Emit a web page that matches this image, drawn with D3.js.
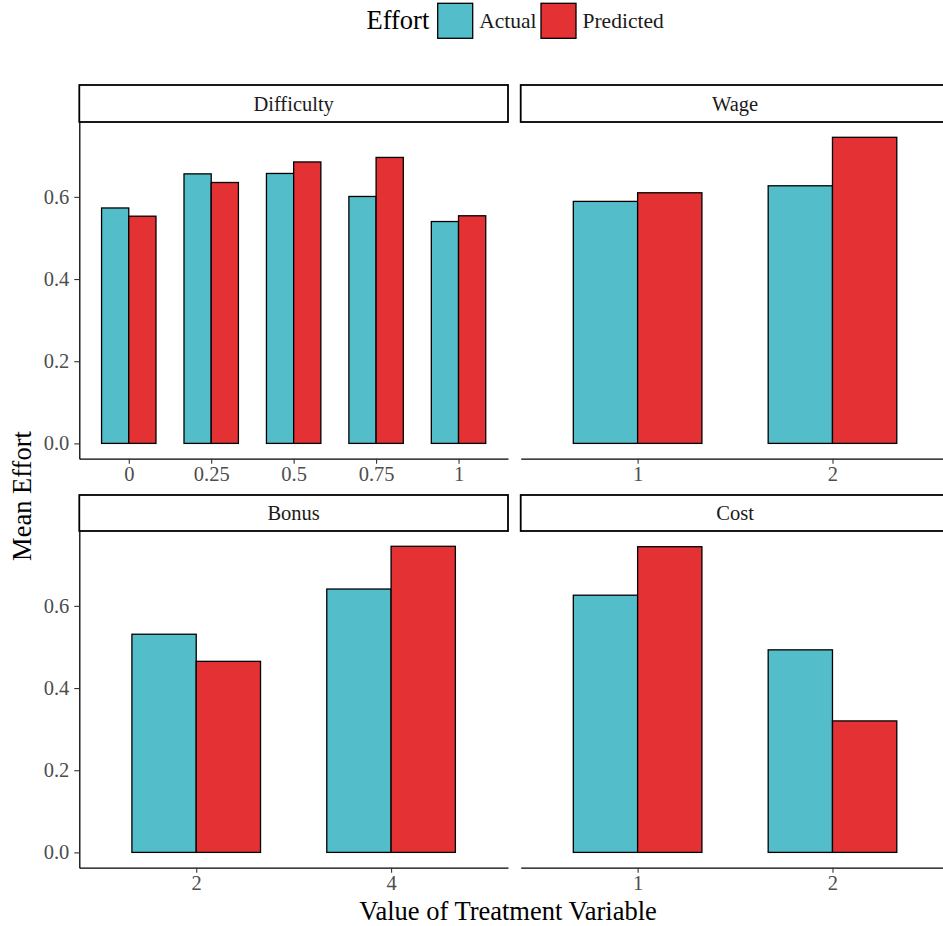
<!DOCTYPE html>
<html>
<head>
<meta charset="utf-8">
<script src="https://cdn.jsdelivr.net/npm/d3@7"></script>
<style>
  html, body { margin: 0; padding: 0; background: #fff; }
  svg { display: block; }
  text { font-family: "Liberation Serif", "Times New Roman", serif; }
</style>
</head>
<body>
<svg id="chart" width="943" height="926"></svg>
<script>
// Mean effort by treatment value, actual vs predicted
const seriesNames = ["Actual", "Predicted"];
const seriesColors = ["#53BDCA", "#E33134"];

const facetNames = ["Difficulty", "Wage", "Bonus", "Cost"];

const difficultyLevels = ["0", "0.25", "0.5", "0.75", "1"];
const difficultyActual = [0.573, 0.656, 0.657, 0.601, 0.540];
const difficultyPredicted = [0.553, 0.635, 0.685, 0.696, 0.554];

const wageLevels = ["1", "2"];
const wageActual = [0.589, 0.627];
const wagePredicted = [0.610, 0.745];

const bonusLevels = ["2", "4"];
const bonusActual = [0.531, 0.641];
const bonusPredicted = [0.465, 0.745];

const costLevels = ["1", "2"];
const costActual = [0.626, 0.493];
const costPredicted = [0.744, 0.320];

const yTicks = [0, 0.2, 0.4, 0.6];

const facets = [
  { name: facetNames[0], levels: difficultyLevels, values: [difficultyActual, difficultyPredicted] },
  { name: facetNames[1], levels: wageLevels, values: [wageActual, wagePredicted] },
  { name: facetNames[2], levels: bonusLevels, values: [bonusActual, bonusPredicted] },
  { name: facetNames[3], levels: costLevels, values: [costActual, costPredicted] }
];

const svg = d3.select("#chart");

// panel geometry (two columns, two rows, shared y)
const colX = [79.3, 520.7];
const panelW = 428.7;
const rows = [
  { stripTop: 85, top: 122, bottom: 458.7 },
  { stripTop: 495, top: 531, bottom: 867.7 }
];

// shared y domain: 0..max with 5% expansion
const yMax = d3.max(facets, f => d3.max(f.values, s => d3.max(s)));
const yPad = yMax * 0.05;
const yDomain = [-yPad, yMax + yPad];

const barWidth = 0.66;
const tickColor = "#333333";
const labelColor = "#4D4D4D";

facets.forEach((f, i) => {
  const col = i % 2, row = Math.floor(i / 2);
  const x0 = colX[col], x1 = x0 + panelW;
  const r = rows[row];

  const x = d3.scalePoint().domain(f.levels).range([x0, x1]).padding(0.6);
  const y = d3.scaleLinear().domain(yDomain).range([r.bottom, r.top]);
  const step = x.step();

  const g = svg.append("g");

  // strip
  g.append("rect")
    .attr("x", x0).attr("y", r.stripTop)
    .attr("width", panelW).attr("height", r.top - r.stripTop)
    .attr("fill", "#fff").attr("stroke", "#000").attr("stroke-width", 1.8);
  g.append("text")
    .attr("x", (x0 + x1) / 2).attr("y", (r.stripTop + r.top) / 2)
    .attr("dy", "0.35em").attr("text-anchor", "middle")
    .attr("font-size", 20.5).attr("fill", "#1A1A1A")
    .text(f.name);

  // bars
  const sub = d3.scaleBand().domain(seriesNames).range([-barWidth * step / 2, barWidth * step / 2]);
  seriesNames.forEach((s, si) => {
    g.append("g").selectAll("rect")
      .data(f.levels.map((lv, li) => ({ lv, v: f.values[si][li] })))
      .join("rect")
      .attr("x", d => x(d.lv) + sub(s))
      .attr("width", sub.bandwidth())
      .attr("y", d => y(d.v))
      .attr("height", d => y(0) - y(d.v))
      .attr("fill", seriesColors[si])
      .attr("stroke", "#000").attr("stroke-width", 1.3);
  });

  // x axis
  const xAxis = g.append("g")
    .attr("transform", `translate(0,${r.bottom})`)
    .call(d3.axisBottom(x).tickSize(5).tickPadding(3).tickSizeOuter(0));
  xAxis.select(".domain").attr("stroke", "#000").attr("stroke-width", 1.3);
  xAxis.selectAll(".tick line").attr("stroke", tickColor).attr("stroke-width", 1.1);
  xAxis.selectAll(".tick text")
    .attr("font-family", "Liberation Serif, serif").attr("font-size", 20.5)
    .attr("fill", labelColor);

  // y axis on the left column only
  if (col === 0) {
    const yAxis = g.append("g")
      .attr("transform", `translate(${x0},0)`)
      .call(d3.axisLeft(y).tickValues(yTicks).tickFormat(d3.format(".1f"))
        .tickSize(5).tickPadding(5).tickSizeOuter(0));
    yAxis.select(".domain").attr("stroke", "#000").attr("stroke-width", 1.3);
    yAxis.selectAll(".tick line").attr("stroke", tickColor).attr("stroke-width", 1.1);
    yAxis.selectAll(".tick text")
      .attr("font-family", "Liberation Serif, serif").attr("font-size", 20.5)
      .attr("fill", labelColor);
  }
});

// axis titles
svg.append("text")
  .attr("x", 508).attr("y", 920)
  .attr("text-anchor", "middle").attr("font-size", 26.5).attr("fill", "#000")
  .text("Value of Treatment Variable");
svg.append("text")
  .attr("transform", "translate(31,496) rotate(-90)")
  .attr("text-anchor", "middle").attr("font-size", 26.5).attr("fill", "#000")
  .text("Mean Effort");

// legend
const legend = svg.append("g");
legend.append("text")
  .attr("x", 366.5).attr("y", 29)
  .attr("font-size", 26.5).attr("fill", "#000")
  .text("Effort");
const keyX = [437.7, 541];
seriesNames.forEach((s, si) => {
  legend.append("rect")
    .attr("x", keyX[si]).attr("y", 3.3)
    .attr("width", 35).attr("height", 35)
    .attr("fill", seriesColors[si]).attr("stroke", "#000").attr("stroke-width", 1.3);
  legend.append("text")
    .attr("x", keyX[si] + 41.5).attr("y", 28)
    .attr("font-size", 21.5).attr("fill", "#1A1A1A")
    .text(s);
});
</script>
</body>
</html>
